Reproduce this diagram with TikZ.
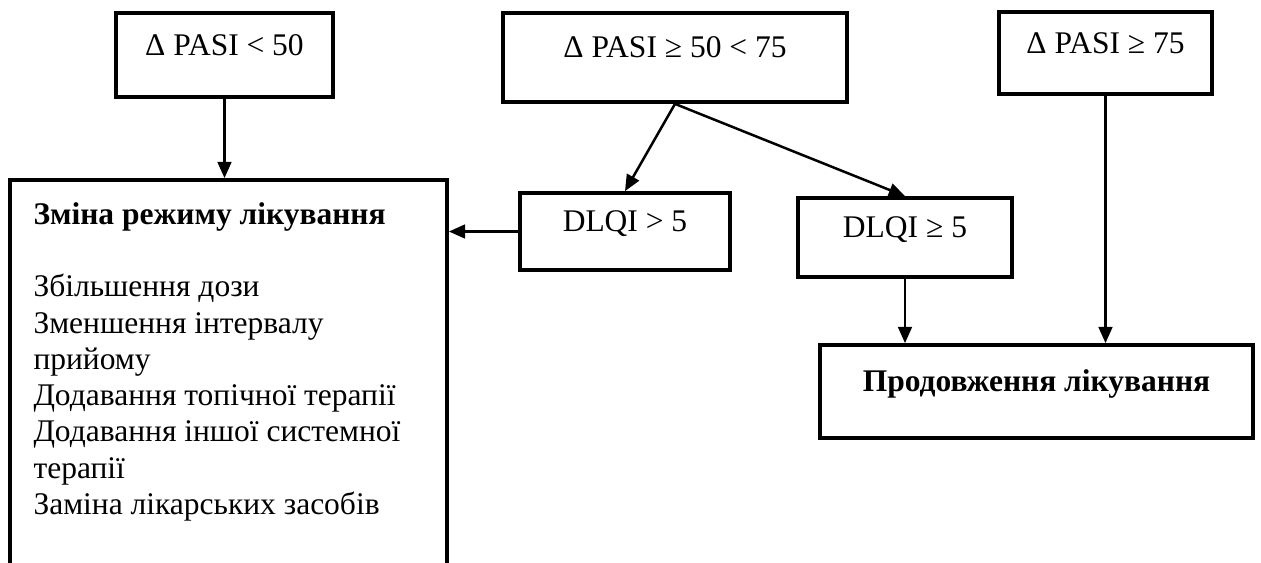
\documentclass[tikz,border=0pt]{standalone}
\usepackage{fontspec}
\setmainfont{Liberation Serif}
\usetikzlibrary{arrows.meta}
\begin{document}
\begin{tikzpicture}[x=0.4pt,y=-0.4pt,
    every node/.style={font=\fontsize{12.6}{14.5}\selectfont},
    box/.style={draw,line width=1.5pt,inner sep=0pt,text height=6pt,text depth=6pt},
    arr/.style={-{Triangle[length=6.5pt,width=5.5pt]},line width=1pt}]
  \useasboundingbox (0,0) rectangle (1261,562);
  \clip (0,0) rectangle (1261,562);
  \node[box,minimum width=86.8pt,minimum height=33.6pt] (pasilow) at (224.5,55) {Δ PASI < 50};
  \node[box,minimum width=137.6pt,minimum height=35.6pt] (pasimid) at (675,57.5) {Δ PASI ≥ 50 < 75};
  \node[box,minimum width=85.2pt,minimum height=32.8pt] (pasihigh) at (1105.5,53) {Δ PASI ≥ 75};
  \node[box,minimum width=84pt,minimum height=30.8pt] (dlqigt) at (625,231.5) {DLQI > 5};
  \node[box,minimum width=85.6pt,minimum height=31.6pt] (dlqige) at (905,237.5) {DLQI ≥ 5};
  \node[box,minimum width=173.2pt,minimum height=37.2pt] (cont) at (1036.5,391.5) {\textbf{Продовження лікування}};
  \node[box,minimum width=174.8pt,minimum height=168pt] (change) at (228.5,390) {};
  \node[anchor=north west,align=left,inner sep=0pt] (changetext) at (33,202)
    {\textbf{Зміна режиму лікування}\\[14.5pt]
     Збільшення дози\\
     Зменшення інтервалу\\
     прийому\\
     Додавання топічної терапії\\
     Додавання іншої системної\\
     терапії\\
     Заміна лікарських засобів};
  \begin{scope}[arr]
    \draw (pasilow) to (pasilow |- change.north);
    \draw (pasimid.south) to (dlqigt.north);
    \draw (pasimid.south) to (dlqige.north);
    \draw (dlqigt.west) to (dlqigt.west -| change.east);
    \draw (dlqige.south) to (dlqige.south |- cont.north);
    \draw (pasihigh.south) to (pasihigh.south |- cont.north);
  \end{scope}
\end{tikzpicture}
\end{document}
